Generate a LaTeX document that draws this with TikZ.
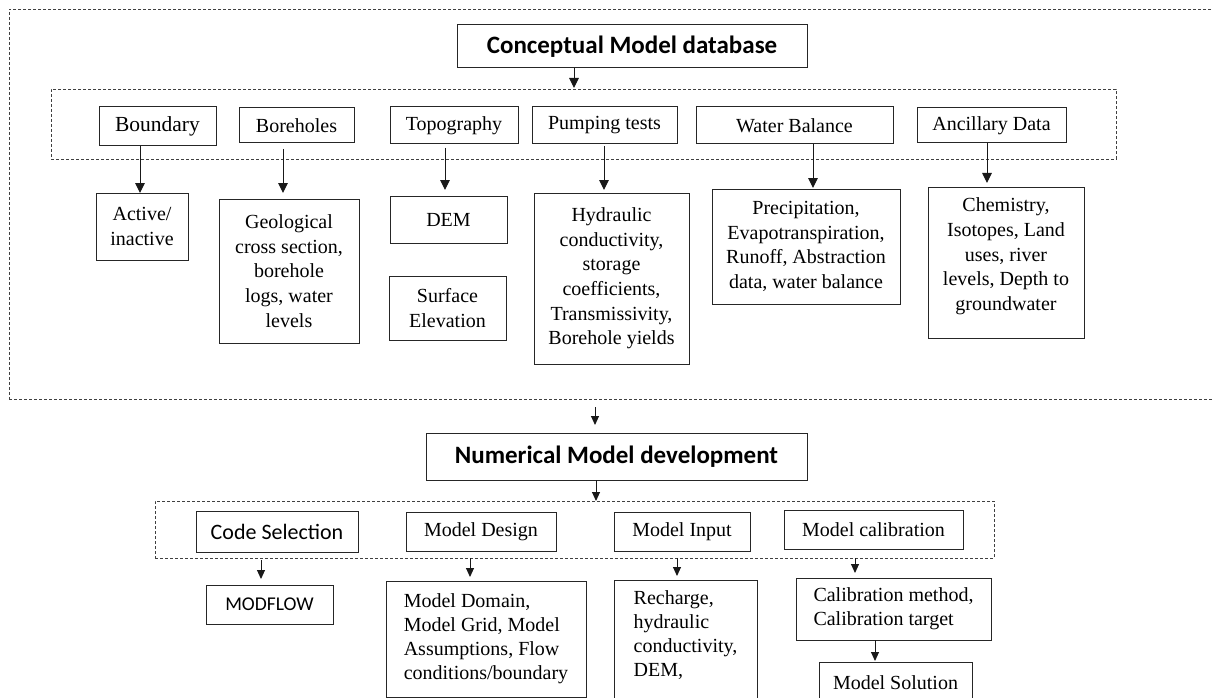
\documentclass[tikz,border=0pt]{standalone}
\usepackage{fontspec}
\setmainfont{Liberation Serif}
\newfontfamily\calfont{Carlito}
\usetikzlibrary{arrows.meta}
\begin{document}
\begin{tikzpicture}[x=1pt,y=-1pt,
  box/.style={draw=black!85, line width=1pt, inner sep=0pt, outer sep=0pt, align=center,
              font=\fontsize{20}{24.6}\selectfont},
  dbox/.style={draw=black!75, line width=0.8pt, dash pattern=on 3pt off 2pt, inner sep=0pt, outer sep=0pt},
  wh/.style 2 args={minimum width=#1pt, minimum height=#2pt},
  head/.style={box, font=\calfont\bfseries\fontsize{25}{30}\selectfont},
  calbox/.style={box, font=\calfont\fontsize{22}{26}\selectfont},
  arr/.style={-{Triangle[length=10pt,width=9.5pt]}, line width=1pt, draw=black!90},
  arrs/.style={-{Triangle[length=9pt,width=8pt]}, line width=1pt, draw=black!90}]
\useasboundingbox (0,0) rectangle (1213,698);
\clip (0,0) rectangle (1213,698);
\fill[white] (0,0) rectangle (1213,698);

% conceptual part
\node[dbox, wh={1216}{390}] (outer) at (617,204) {};
\node[head, wh={350}{43}] (concept) at (632,46.5) {Conceptual Model database};
\node[dbox, wh={1065}{70}] (dbox1) at (583.5,124) {};

\node[box, wh={117}{39}, font=\fontsize{21.5}{26}\selectfont] (boundary) at (157.5,126.5) {Boundary};
\node[box, wh={115}{35}] (boreholes) at (296.5,125.5) {Boreholes};
\node[box, wh={128}{37}] (topo) at (454,125.5) {Topography};
\node[box, wh={145}{37}] (pump) at (604.5,125.5) {Pumping tests};
\node[box, wh={197}{37}] (water) at (794.5,125.5) {Water Balance};
\node[box, wh={149}{35}] (ancil) at (991.5,125.5) {Ancillary Data};

\node[box, wh={92}{67}] (active) at (142,226.5) {Active/\\inactive};
\node[box, wh={140}{144}] (geo) at (289,271) {Geological\\cross section,\\borehole\\logs, water\\levels};
\node[box, wh={117}{47}] (dem) at (448.5,219.5) {DEM};
\node[box, wh={117}{64}] (surf) at (447.5,308) {Surface\\Elevation};
\node[box, wh={155}{171}] (hyd) at (611.5,278.5) {Hydraulic\\conductivity,\\storage\\coefficients,\\Transmissivity,\\Borehole yields};
\node[box, wh={188}{115}] (precip) at (806,246.5) {Precipitation,\\Evapotranspiration,\\Runoff, Abstraction\\data, water balance};
\node[box, wh={156}{151}] (chem) at (1006,262.5) {Chemistry,\\Isotopes, Land\\uses, river\\levels, Depth to\\groundwater\\[-8pt]\mbox{}};

\draw[arr, shorten >=1pt] (concept.south -| 574,0) -- (dbox1.north -| 574,0);
\draw[arr] (boundary.south -| 140,0) -- (active.north -| 140,0);
\draw[arr, shorten <=6pt, shorten >=6pt] (boreholes.south -| 283,0) -- (geo.north -| 283,0);
\draw[arr, shorten <=4pt, shorten >=6pt] (topo.south -| 445,0) -- (dem.north -| 445,0);
\draw[arr, shorten <=2pt, shorten >=3pt] (pump.south -| 604,0) -- (hyd.north -| 604,0);
\draw[arr, shorten >=1pt] (water.south -| 813,0) -- (precip.north -| 813,0);
\draw[arr, shorten >=4pt] (ancil.south -| 987,0) -- (chem.north -| 987,0);

% numerical part
\node[head, wh={381}{47}] (num) at (616.5,456.5) {Numerical Model development};
\node[dbox, wh={839}{57}] (dbox2) at (574.5,529.5) {};
\node[calbox, wh={162}{41}] (codesel) at (277,531.5) {Code Selection};
\node[box, wh={150}{39}] (mdesign) at (481,531.5) {Model Design};
\node[box, wh={136}{39}] (minput) at (682,531.5) {Model Input};
\node[box, wh={179}{39}] (mcal) at (873.5,529.5) {Model calibration};

\node[calbox, wh={127}{39}, font=\calfont\fontsize{19.5}{24}\selectfont] (modflow) at (269.5,604.5) {MODFLOW};
\node[box, wh={200}{116}, align=left, font=\fontsize{20}{24}\selectfont] (mdomain) at (486,639) {Model Domain,\\Model Grid, Model\\Assumptions, Flow\\conditions/boundary};
\node[box, wh={143}{132}, anchor=north, align=left, font=\fontsize{20}{24}\selectfont] (recharge) at (685.5,580) {Recharge,\\hydraulic\\conductivity,\\DEM,\\\mbox{}};
\node[box, wh={195}{62}, align=left, font=\fontsize{20}{24}\selectfont] (calmeth) at (893.5,609) {Calibration method,\\Calibration target};
\node[box, wh={153}{42}, anchor=north] (msol) at (895.5,662) {Model Solution};

\draw[arrs, shorten <=8pt, shorten >=8pt] (outer.south -| 595,0) -- (num.north -| 595,0);
\draw[arrs] (num.south -| 596,0) -- (dbox2.north -| 596,0);
\draw[arrs, shorten <=2pt, shorten >=6pt] (dbox2.south -| 261,0) -- (modflow.north -| 261,0);
\draw[arrs, shorten >=4pt] (dbox2.south -| 470,0) -- (mdomain.north -| 470,0);
\draw[arrs, shorten >=4pt] (dbox2.south -| 677,0) -- (recharge.north -| 677,0);
\draw[arrs, shorten >=5pt] (dbox2.south -| 855,0) -- (calmeth.north -| 855,0);
\draw[arrs, shorten >=1pt] (calmeth.south -| 875,0) -- (msol.north -| 875,0);
\end{tikzpicture}
\end{document}
